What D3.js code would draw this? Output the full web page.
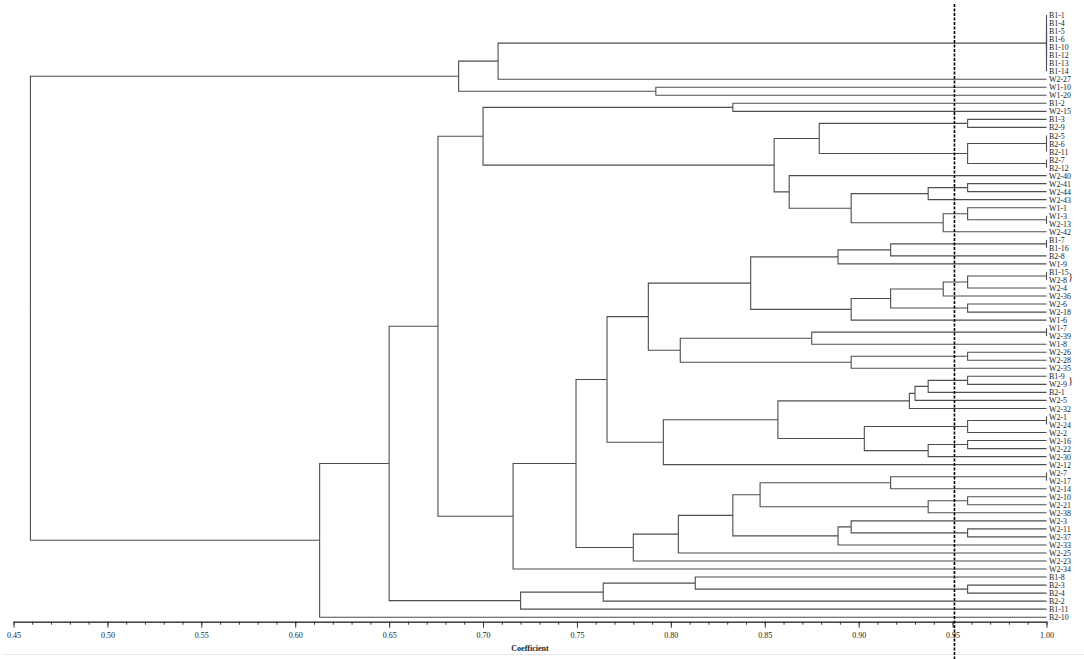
<!DOCTYPE html>
<html>
<head>
<meta charset="utf-8">
<script src="https://cdn.jsdelivr.net/npm/d3@7"></script>
<style>
  body { margin: 0; background: #fff; }
  svg { display: block; }
  .link { fill: none; stroke: #4d4d4d; stroke-width: 1.1px; }
  .leaf { font-family: "Liberation Serif", "DejaVu Serif", serif; font-size: 9px; fill: #222; }
  .axis text { font-family: "Liberation Serif", serif; font-size: 8px; fill: #222; }
  .axis path, .axis line { stroke: #333; stroke-width: 1px; }
</style>
</head>
<body>
<script>
/* leaf order, top to bottom */
var leaves = ["B1-1","B1-4","B1-5","B1-6","B1-10","B1-12","B1-13","B1-14","W2-27","W1-10","W1-20",
  "B1-2","W2-15","B1-3","B2-9","B2-5","B2-6","B2-11","B2-7","B2-12","W2-40","W2-41","W2-44","W2-43",
  "W1-1","W1-3","W2-13","W2-42","B1-7","B1-16","B2-8","W1-9","B1-15","W2-8","W2-4","W2-36","W2-6",
  "W2-18","W1-6","W1-7","W2-39","W1-8","W2-26","W2-28","W2-35","B1-9","W2-9","B2-1","W2-5","W2-32",
  "W2-1","W2-24","W2-2","W2-16","W2-22","W2-30","W2-12","W2-7","W2-17","W2-14","W2-10","W2-21",
  "W2-38","W2-3","W2-11","W2-37","W2-33","W2-25","W2-23","W2-34","B1-8","B2-3","B2-4","B2-2",
  "B1-11","B2-10"];

/* merges: [cluster id, coefficient, members] */
var topMerges = [
  ["t1", 1.00, ["B1-1","B1-4","B1-5","B1-6","B1-10","B1-12","B1-13","B1-14"]],
  ["t2", 0.708, ["t1","W2-27"]],
  ["t3", 0.792, ["W1-10","W1-20"]],
  ["top", 0.687, ["t2","t3"]]
];
var upperMerges = [
  ["u1", 0.833, ["B1-2","W2-15"]],
  ["u2", 0.958, ["B1-3","B2-9"]],
  ["u3", 1.00, ["B2-5","B2-6","B2-11"]],
  ["u4", 1.00, ["B2-7","B2-12"]],
  ["u5", 0.958, ["u3","u4"]],
  ["u6", 0.879, ["u2","u5"]],
  ["u7", 0.958, ["W2-41","W2-44"]],
  ["u8", 0.937, ["u7","W2-43"]],
  ["u9", 1.00, ["W1-3","W2-13"]],
  ["u10", 0.958, ["W1-1","u9"]],
  ["u11", 0.945, ["u10","W2-42"]],
  ["u12", 0.896, ["u8","u11"]],
  ["u13", 0.863, ["W2-40","u12"]],
  ["u14", 0.855, ["u6","u13"]],
  ["upper", 0.700, ["u1","u14"]]
];
var middleMerges = [
  ["m1", 1.00, ["B1-7","B1-16"]],
  ["m2", 0.917, ["m1","B2-8"]],
  ["m3", 0.889, ["m2","W1-9"]],
  ["m4", 1.00, ["B1-15","W2-8"]],
  ["m5", 0.958, ["m4","W2-4"]],
  ["m6", 0.945, ["m5","W2-36"]],
  ["m7", 0.958, ["W2-6","W2-18"]],
  ["m8", 0.917, ["m6","m7"]],
  ["m9", 0.896, ["m8","W1-6"]],
  ["m10", 0.8425, ["m3","m9"]],
  ["m11", 1.00, ["W1-7","W2-39"]],
  ["m12", 0.875, ["m11","W1-8"]],
  ["m13", 0.958, ["W2-26","W2-28"]],
  ["m14", 0.896, ["m13","W2-35"]],
  ["m15", 0.805, ["m12","m14"]],
  ["m16", 0.788, ["m10","m15"]],
  ["m17", 0.958, ["B1-9","W2-9"]],
  ["m18", 0.937, ["m17","B2-1"]],
  ["m19", 0.930, ["m18","W2-5"]],
  ["m20", 0.927, ["m19","W2-32"]],
  ["m21", 1.00, ["W2-1","W2-24"]],
  ["m22", 0.958, ["m21","W2-2"]],
  ["m23", 0.958, ["W2-16","W2-22"]],
  ["m24", 0.937, ["m23","W2-30"]],
  ["m25", 0.903, ["m22","m24"]],
  ["m26", 0.857, ["m20","m25"]],
  ["m27", 0.796, ["m26","W2-12"]],
  ["m28", 0.766, ["m16","m27"]],
  ["m29", 1.00, ["W2-7","W2-17"]],
  ["m30", 0.917, ["m29","W2-14"]],
  ["m31", 0.958, ["W2-10","W2-21"]],
  ["m32", 0.937, ["m31","W2-38"]],
  ["m33", 0.8475, ["m30","m32"]],
  ["m34", 0.958, ["W2-11","W2-37"]],
  ["m35", 0.896, ["W2-3","m34"]],
  ["m36", 0.889, ["m35","W2-33"]],
  ["m37", 0.833, ["m33","m36"]],
  ["m38", 0.804, ["m37","W2-25"]],
  ["m39", 0.780, ["m38","W2-23"]],
  ["m40", 0.7495, ["m28","m39"]],
  ["middle", 0.716, ["m40","W2-34"]]
];
var bottomMerges = [
  ["b1", 0.958, ["B2-3","B2-4"]],
  ["b2", 0.813, ["B1-8","b1"]],
  ["b3", 0.764, ["b2","B2-2"]],
  ["bottom", 0.720, ["b3","B1-11"]]
];
var rootMerges = [
  ["r1", 0.676, ["upper","middle"]],
  ["r2", 0.650, ["r1","bottom"]],
  ["r3", 0.613, ["r2","B2-10"]],
  ["root", 0.459, ["top","r3"]]
];

var majorTicks = [0.45, 0.50, 0.55, 0.60, 0.65, 0.70, 0.75, 0.80, 0.85, 0.90, 0.95, 1.00];
var minorTicks = d3.range(45, 101).map(function(d) { return d / 100; });
var cutoff = 0.951;
var braces = [["B1-15","W2-8"], ["B1-9","W2-9"]];

/* page setup */
var width = 1084, height = 659;
var axisY = 621.7;

var svg = d3.select("body").append("svg")
  .attr("width", width).attr("height", height);

var x = d3.scaleLinear().domain([0.45, 1.0]).range([13.5, 1046.5]);
var y = d3.scalePoint().domain(leaves).range([15, 617.2]);

/* build the tree from the merge table */
var nodes = {};
leaves.forEach(function(l) { nodes[l] = { name: l, coef: 1.0 }; });
[].concat(topMerges, upperMerges, middleMerges, bottomMerges, rootMerges).forEach(function(m) {
  nodes[m[0]] = { name: m[0], coef: m[1], children: m[2].map(function(c) { return nodes[c]; }) };
});

var root = d3.hierarchy(nodes["root"]);
root.eachAfter(function(n) {
  if (!n.children) n.y = y(n.data.name);
  else n.y = (n.children[0].y + n.children[n.children.length - 1].y) / 2;
});

/* links */
svg.append("g").selectAll("path")
  .data(root.links())
  .enter().append("path")
  .attr("class", "link")
  .attr("d", function(l) {
    return "M" + x(l.source.data.coef) + "," + l.source.y +
      "V" + l.target.y + "H" + x(l.target.data.coef);
  });

/* leaf labels */
svg.append("g").selectAll("text")
  .data(root.leaves())
  .enter().append("text")
  .attr("class", "leaf")
  .attr("transform", function(d) { return "translate(" + (x(1.0) + 2.5) + "," + d.y + ") scale(0.88,1)"; })
  .attr("dy", "0.34em")
  .text(function(d) { return d.data.name; });

svg.append("g").selectAll("text")
  .data(braces)
  .enter().append("text")
  .attr("class", "leaf")
  .attr("x", 1068)
  .attr("y", function(d) { return (y(d[0]) + y(d[1])) / 2; })
  .attr("dy", "0.34em")
  .style("font-size", "11px")
  .text("}");

/* axis */
svg.append("g")
  .attr("class", "axis")
  .attr("transform", "translate(0," + axisY + ")")
  .call(d3.axisBottom(x).tickValues(minorTicks).tickSize(3).tickSizeOuter(0).tickFormat(""));

svg.append("g")
  .attr("class", "axis")
  .attr("transform", "translate(0," + axisY + ")")
  .call(d3.axisBottom(x).tickValues(majorTicks).tickSize(6).tickSizeOuter(0)
    .tickPadding(5).tickFormat(d3.format(".2f")));

svg.append("text")
  .attr("x", (x(0.45) + x(1.0)) / 2)
  .attr("y", 651)
  .attr("text-anchor", "middle")
  .style("font-family", "Liberation Serif, serif")
  .style("font-size", "8px")
  .style("font-weight", "bold")
  .style("fill", "#222")
  .text("Coefficient");

svg.append("line")
  .attr("x1", 3).attr("x2", width)
  .attr("y1", 654.5).attr("y2", 654.5)
  .style("stroke", "#e4e7eb").style("stroke-width", 1);

/* cutoff line */
svg.append("line")
  .attr("x1", x(cutoff)).attr("x2", x(cutoff))
  .attr("y1", 4).attr("y2", height)
  .style("stroke", "#000")
  .style("stroke-width", 1.6)
  .style("stroke-dasharray", "3,1.5");
</script>
</body>
</html>
